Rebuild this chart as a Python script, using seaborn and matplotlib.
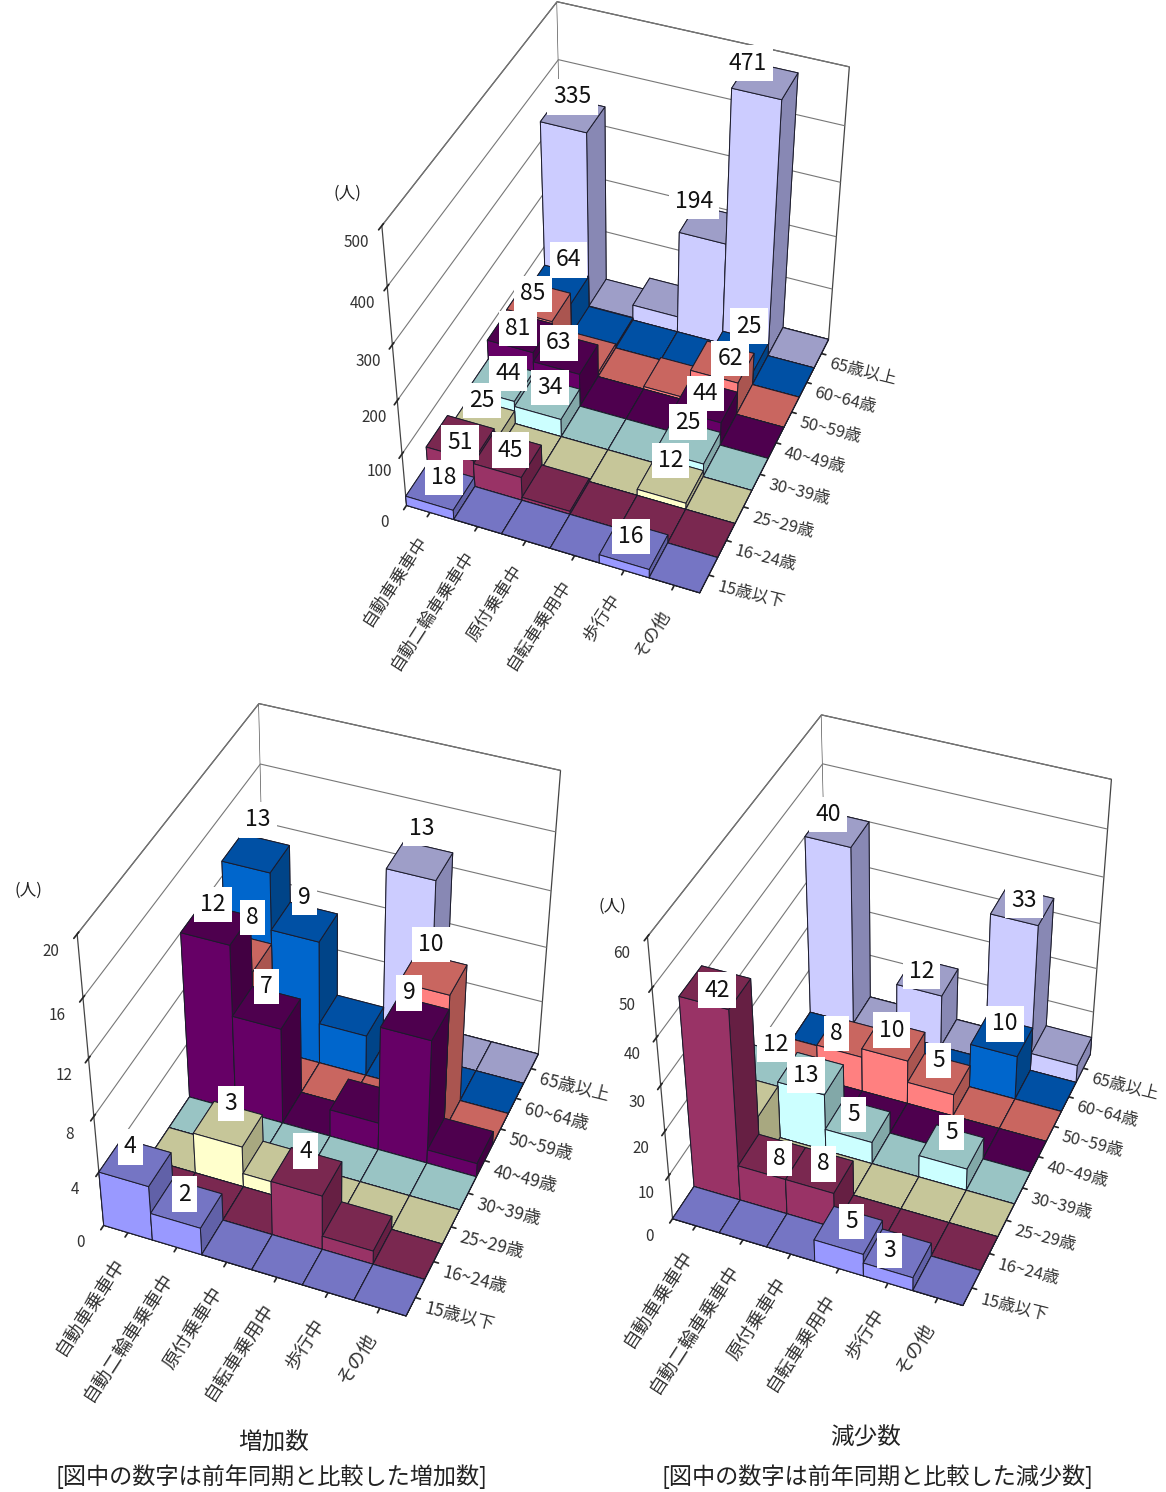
import numpy as np
import matplotlib
matplotlib.use("Agg")
import matplotlib.pyplot as plt
import seaborn as sns
from mpl_toolkits.mplot3d import Axes3D, proj3d  # noqa

sns.set_theme(style="white")
plt.rcParams['font.family'] = ['Noto Sans CJK JP', 'DejaVu Sans']

categories = ["自動車乗車中", "自動二輪車乗車中", "原付乗車中", "自転車乗用中", "歩行中", "その他"]
age_groups = ["15歳以下", "16~24歳", "25~29歳", "30~39歳", "40~49歳", "50~59歳", "60~64歳", "65歳以上"]

total_values = [
    [18, 0, 0, 0, 16, 0],
    [51, 45, 6, 0, 0, 0],
    [25, 0, 0, 0, 12, 0],
    [44, 34, 0, 0, 25, 0],
    [81, 63, 0, 0, 44, 0],
    [85, 8, 0, 5, 62, 0],
    [64, 4, 0, 0, 25, 0],
    [335, 5, 30, 194, 471, 0],
]
total_labeled = [(0,0),(0,4),(1,0),(1,1),(2,0),(2,4),(3,0),(3,1),(3,4),(4,0),(4,1),(4,4),(5,0),(5,4),(6,0),(6,4),(7,0),(7,3),(7,4)]
inc_values = [
    [4, 2, 0, 0, 0, 0],
    [0, 0, 0, 4, 1, 0],
    [0, 3, 1, 0, 0, 0],
    [0, 0, 0, 0, 0, 0],
    [12, 7, 0, 2, 9, 1],
    [8, 0, 0, 0, 10, 0],
    [13, 9, 3, 0, 0, 0],
    [0, 0, 0, 13, 0, 0],
]
inc_labeled = [(0,0),(0,1),(1,3),(2,1),(4,0),(4,1),(4,4),(5,0),(5,4),(6,0),(6,1),(7,3)]
dec_values = [
    [0, 0, 0, 5, 3, 0],
    [42, 8, 8, 0, 0, 0],
    [12, 0, 0, 0, 0, 0],
    [12, 13, 5, 0, 5, 0],
    [0, 0, 0, 0, 0, 0],
    [0, 8, 10, 5, 0, 0],
    [0, 0, 0, 0, 10, 0],
    [40, 0, 12, 0, 33, 4],
]
dec_labeled = [(0,3),(0,4),(1,0),(1,1),(1,2),(3,0),(3,1),(3,2),(3,4),(5,1),(5,2),(5,3),(6,4),(7,0),(7,2),(7,4)]

front = ['#9999FF', '#993366', '#FFFFCC', '#CCFFFF', '#660066', '#FF8080', '#0066CC', '#CCCCFF']
top   = ['#7575C4', '#7A2850', '#C6C699', '#99C4C4', '#4E004E', '#C96660', '#0050A4', '#9E9EC8']
side  = ['#6161A8', '#661F43', '#A8A880', '#82A8A8', '#420042', '#AA5550', '#004488', '#8888B4']

# small pixel shifts (right, down) of individual value labels
total_nudge = {(0, 0): (4, 10), (0, 4): (-3, 11), (1, 0): (0, 24), (1, 1): (3, 15), (3, 0): (7, 13),
               (3, 1): (3, 9), (4, 0): (-2, 16), (4, 1): (-7, 9), (4, 4): (0, 12), (5, 0): (-6, 12),
               (5, 4): (8, 16), (6, 0): (11, -5), (6, 4): (11, -6), (7, 0): (0, 2),
               (7, 3): (-17, -4), (7, 4): (-17, 2)}
inc_nudge = {(0, 0): (-5, 4), (0, 1): (-2, 10), (1, 3): (-1, -1), (2, 1): (3, -1), (4, 0): (-3, 0),
             (4, 1): (0, -2), (4, 4): (-6, -6), (5, 0): (14, -15), (5, 4): (-2, -10),
             (6, 0): (2, -14), (6, 1): (0, -5), (7, 3): (2, -13)}
dec_nudge = {(1, 0): (2, 22), (1, 1): (7, 21), (1, 2): (4, 13), (0, 3): (3, 11), (0, 4): (-8, 17),
             (3, 0): (11, -1), (3, 1): (-5, 21), (3, 2): (-4, 13), (3, 4): (0, 5), (7, 0): (-9, 5),
             (7, 2): (-6, 14), (7, 4): (2, 14), (5, 1): (-12, 16), (5, 2): (-2, 9), (5, 3): (0, 6),
             (6, 4): (3, 7)}


def panel(rect_px, values, labeled, nudge, zmax, zstep, view, box, zoom, xfs, yfs):
    W, H = 1166, 1492
    l, t, w, h = rect_px
    ax = fig.add_axes([l / W, 1 - (t + h) / H, w / W, h / H], projection='3d')
    ax.patch.set_alpha(0)
    ax.set_proj_type('persp', focal_length=view[2])
    ax.view_init(elev=view[0], azim=view[1])
    ax.set_box_aspect(box, zoom=zoom)
    ax.computed_zorder = False
    ax.set_xlim(0, 6, view_margin=0)
    ax.set_ylim(0, 8, view_margin=0)
    ax.set_zlim(0, zmax, view_margin=0)

    order = 10
    for r in range(7, -1, -1):
        for c in range(6):
            v = values[r][c]
            cols = [top[r], top[r], front[r], front[r], side[r], side[r]]
            coll = ax.bar3d(c, r, 0, 1, 1, v, color=cols, shade=False,
                            edgecolor='#1c1c2c', linewidth=0.7)
            coll.set_zorder(order)
            coll.set_clip_on(False)
            order += 1
    M = ax.get_proj()
    for r, c in sorted(labeled, key=lambda rc: -rc[0]):
        v = values[r][c]
        X, Y, _ = proj3d.proj_transform(c + 0.5, r + 0.5, v, M)
        nx, ny = nudge.get((r, c), (0, 0))
        ax.annotate(str(v), xy=(X, Y), xytext=(nx * 0.72, 14 - ny * 0.72), textcoords='offset points',
                    ha='center', va='center', fontsize=16.5, color='#111111',
                    zorder=2000 + 10 * (7 - r) + c, annotation_clip=False,
                    bbox=dict(facecolor='white', edgecolor='none', pad=4.5))

    ax.set_xticks(np.arange(6) + 0.5)
    ax.set_xticklabels(categories, rotation=57, ha='right', va='center',
                       rotation_mode='anchor', fontsize=xfs, color='#333333')
    ax.set_yticks(np.arange(8) + 0.5)
    ax.set_yticklabels(age_groups, rotation=-14, ha='left', va='center',
                       rotation_mode='anchor', fontsize=yfs, color='#333333')
    ax.set_zticks(np.arange(0, zmax + 1, zstep))
    ax.tick_params(axis='z', labelsize=11, labelcolor='#333333', pad=3)
    ax.tick_params(axis='x', pad=3)
    ax.tick_params(axis='y', pad=-1)
    ax.zaxis.set_ticks_position('lower')
    for a in (ax.xaxis, ax.yaxis, ax.zaxis):
        a.set_pane_color((1, 1, 1, 1))
        a.pane.set_edgecolor('#444444')
        a.pane.set_linewidth(0.9)
        a.line.set_color('#444444')
        a.line.set_linewidth(0.9)
    for a in (ax.xaxis, ax.yaxis):
        a._axinfo['grid']['linewidth'] = 0
    ax.zaxis._axinfo['grid'].update(color='#777777', linewidth=0.8, linestyle='-')
    return ax


fig = plt.figure(figsize=(11.66, 14.92), dpi=100, facecolor='white')

VIEW = (40, -68, 0.7)
panel((318, -54, 600, 700), total_values, total_labeled, total_nudge, 500, 100, VIEW, (5.0, 6.35, 5.7), 1.01, 12.5, 12)
panel((22, 648, 600, 720), inc_values, inc_labeled, inc_nudge, 20, 4, VIEW, (5.0, 6.35, 5.75), 1.045, 13.5, 12.5)
panel((587, 649, 590, 720), dec_values, dec_labeled, dec_nudge, 60, 10, VIEW, (5.0, 6.35, 5.8), 1.024, 13.5, 12)

W, H = 1166, 1492
def tx(x, y, s, fs):
    fig.text(x / W, 1 - y / H, s, ha='center', va='center', fontsize=fs, color='#222222')

tx(347, 193, "(人)", 12)
tx(28, 890, "(人)", 12)
tx(612, 906, "(人)", 12)
tx(274, 1443, "増加数", 17)
tx(271, 1477, "[図中の数字は前年同期と比較した増加数]", 16.7)
tx(866, 1438, "減少数", 17)
tx(877, 1477, "[図中の数字は前年同期と比較した減少数]", 16.7)

fig.savefig('out.png', dpi=100)
